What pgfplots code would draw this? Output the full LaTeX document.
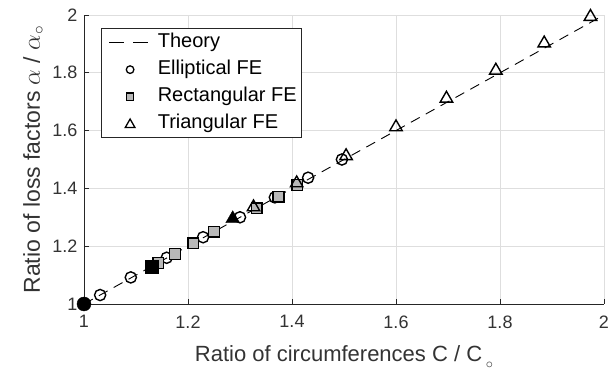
\documentclass[border=0pt]{standalone}
\usepackage{fontspec}
\setmainfont{Liberation Sans}
\usepackage{pgfplots}
\pgfplotsset{compat=1.18}
\definecolor{axisgray}{gray}{0.15}
\definecolor{textgray}{gray}{0.2}
\definecolor{gridgray}{gray}{0.87}
\definecolor{fillgray}{gray}{0.72}
\newcommand{\subring}{\raisebox{-7pt}{\fontsize{15}{15}\selectfont$\circ$}}

\begin{document}
\begin{tikzpicture}
\begin{axis}[
  name=ax,
  scale only axis, width=520pt, height=289pt,
  xmin=1, xmax=2, ymin=1, ymax=2,
  xtick={1,1.2,1.4,1.6,1.8,2},
  ytick={1,1.2,1.4,1.6,1.8,2},
  axis x line*=bottom, axis y line*=left,
  axis line style={-, axisgray, line width=0.8pt},
  tick align=inside, major tick length=5pt,
  tick style={axisgray, line width=0.8pt},
  grid=major, grid style={gridgray, line width=0.8pt},
  /pgf/number format/assume math mode=true,
  ticklabel style={font=\fontsize{18}{20}\selectfont, text=textgray},
  xticklabel style={yshift=-8pt},
  yticklabel style={xshift=-3pt},
  xlabel={Ratio of circumferences C / C\,\subring},
  ylabel={Ratio of loss factors $\alpha$ / $\alpha_\circ$},
  xlabel style={font=\fontsize{22}{26}\selectfont, text=textgray, yshift=-10pt},
  ylabel style={font=\fontsize{23}{26}\selectfont, text=textgray, yshift=2pt},
  legend cell align=left,
  legend style={at={(0,1)}, xshift=17pt, yshift=-13pt, anchor=north west,
    draw=axisgray, line width=0.8pt, fill=white,
    font=\fontsize{20}{23}\selectfont, text=black,
    inner xsep=3pt, inner ysep=5pt, row sep=8.5pt,
    nodes={inner ysep=0pt, text height=14.5pt, text depth=4pt}},
]
% theory: ratio of loss factors equals ratio of circumferences
\addplot[black, line width=0.9pt, dash pattern=on 10pt off 7pt,
  legend image code/.code={\draw[black, line width=0.9pt, dash pattern=on 15pt off 9pt] (4pt,0pt) -- (43pt,0pt);}]
  coordinates {(1,1) (2,2)};
\addlegendentry{Theory}

\addplot[only marks, mark=o, mark size=5.6pt, black, line width=1.4pt,
  mark options={fill=white},
  legend image code/.code={\path (0pt,0pt) (50pt,0pt);
    \draw[black, line width=1.3pt, fill=white] (25pt,0pt) circle[radius=3.8pt];}]
  coordinates {
    (1.031,1.031) (1.090,1.092) (1.159,1.160) (1.229,1.231)
    (1.300,1.300) (1.367,1.369) (1.431,1.437) (1.496,1.500)
  };
\addlegendentry{Elliptical FE}

\addplot[only marks, mark=square*, mark size=5.4pt, black, line width=1.4pt,
  mark options={fill=fillgray},
  legend image code/.code={\path (0pt,0pt) (50pt,0pt);
    \draw[black, line width=1.3pt, fill=fillgray] (21.4pt,-3.6pt) rectangle (28.6pt,3.6pt);}]
  coordinates {
    (1.143,1.142) (1.175,1.173) (1.210,1.210) (1.250,1.250)
    (1.332,1.331) (1.374,1.371) (1.410,1.412)
  };
\addlegendentry{Rectangular FE}

\addplot[only marks, mark=triangle, mark size=7.2pt, black, line width=1.4pt,
  mark options={fill=white},
  legend image code/.code={\path (0pt,0pt) (50pt,0pt);
    \draw[black, line width=1.3pt, fill=white, line join=miter] (20.2pt,-3.8pt) -- (29.8pt,-3.8pt) -- (25pt,4.6pt) -- cycle;}]
  coordinates {
    (1.326,1.335) (1.409,1.418) (1.504,1.512) (1.600,1.612)
    (1.697,1.711) (1.792,1.808) (1.885,1.902) (1.974,1.994)
  };
\addlegendentry{Triangular FE}

% reference cases, filled black
\addplot[only marks, mark=*, mark size=7pt, black, forget plot]
  coordinates {(1,1)};
\addplot[only marks, mark=square*, mark size=6.5pt, black, forget plot]
  coordinates {(1.130,1.129)};
\addplot[only marks, mark=triangle*, mark size=8pt, black, forget plot]
  coordinates {(1.286,1.295)};
\end{axis}
\pgfresetboundingbox
\path[use as bounding box] ([shift={(-84pt,-67pt)}]ax.south west)
  rectangle ([shift={(7pt,15pt)}]ax.north east);
\end{tikzpicture}
\end{document}
